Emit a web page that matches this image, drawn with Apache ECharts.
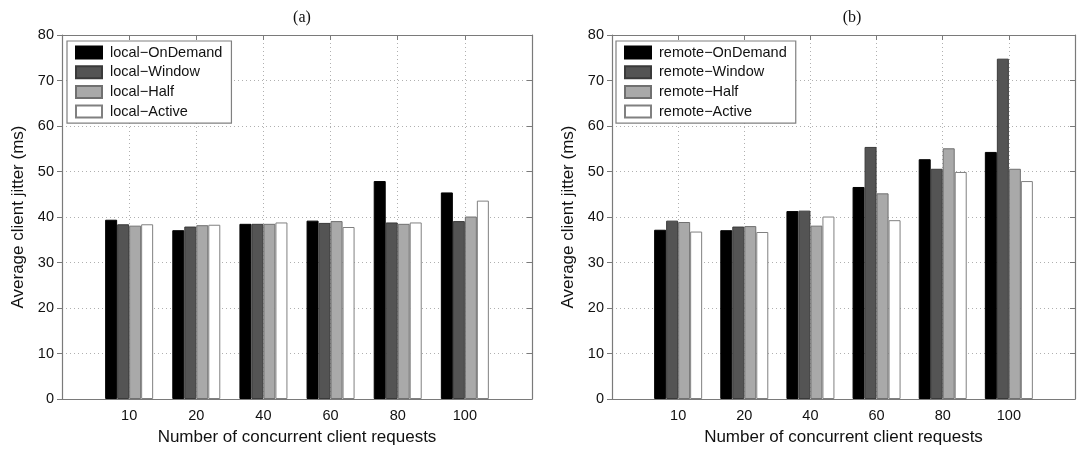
<!DOCTYPE html>
<html>
<head>
<meta charset="utf-8">
<script src="https://cdn.jsdelivr.net/npm/echarts@6/dist/echarts.min.js"></script>
<style>
  html, body { margin: 0; padding: 0; background: #fff; }
  #chart { width: 1078px; height: 451px; }
</style>
</head>
<body>
<div id="chart"></div>
<script>
// Concurrent client request counts (x categories)
const categories = ['10', '20', '40', '60', '80', '100'];
const yTicks = [0, 10, 20, 30, 40, 50, 60, 70, 80];

// (a) local server, average client jitter in ms
const localOnDemand = [39.4, 37.1, 38.5, 39.2, 47.9, 45.4];
const localWindow   = [38.4, 37.9, 38.5, 38.7, 38.8, 39.1];
const localHalf     = [38.1, 38.2, 38.5, 39.1, 38.5, 40.1];
const localActive   = [38.4, 38.3, 38.8, 37.8, 38.8, 43.6];

// (b) remote server, average client jitter in ms
const remoteOnDemand = [37.2, 37.1, 41.3, 46.6, 52.7, 54.3];
const remoteWindow   = [39.2, 37.9, 41.4, 55.4, 50.6, 74.8];
const remoteHalf     = [38.9, 38.0, 38.1, 45.2, 55.1, 50.6];
const remoteActive   = [36.8, 36.7, 40.1, 39.3, 49.9, 47.9];

const fills = ['#000000', '#545454', '#a9a9a9', '#ffffff'];
const edges = ['#000000', '#3a3a3a', '#707070', '#808080'];
const FONT = 'Liberation Sans, Arial, Helvetica, sans-serif';
const SERIF = 'Liberation Serif, Times New Roman, serif';

const chart = echarts.init(document.getElementById('chart'), null, { renderer: 'canvas' });

const grids = [
  { left: 62, width: 470, top: 35, height: 368.5 },
  { left: 612, width: 470, top: 35, height: 368.5 }
];

const dotted = { show: true, lineStyle: { color: '#b0b0b0', type: [1, 3], width: 1 } };
const frameLine = { show: true, onZero: false, lineStyle: { color: '#7a7a7a', width: 1.2 } };

function xAxes(g) {
  return [
    {
      type: 'value', gridIndex: g, position: 'bottom', min: 0, max: categories.length + 1, interval: 1,
      axisLine: frameLine,
      axisTick: { show: false },
      axisLabel: {
        color: '#111', fontSize: 14.5, fontFamily: FONT, margin: 9,
        formatter: v => (v >= 1 && v <= categories.length) ? categories[v - 1] : ''
      },
      splitLine: dotted,
      name: 'Number of concurrent client requests', nameLocation: 'middle', nameGap: 30,
      nameTextStyle: { color: '#111', fontSize: 17, fontFamily: FONT }
    },
    {
      type: 'value', gridIndex: g, position: 'top', min: 0, max: categories.length + 1, interval: 1,
      axisLine: frameLine,
      axisTick: { show: true, inside: true, length: 5, lineStyle: { color: '#7a7a7a' } },
      axisLabel: { show: false }, splitLine: { show: false }
    }
  ];
}

function yAxes(g) {
  return [
    {
      type: 'value', gridIndex: g, position: 'left', min: yTicks[0], max: yTicks[yTicks.length - 1], interval: 10,
      axisLine: frameLine,
      axisTick: { show: true, inside: false, length: 5, lineStyle: { color: '#7a7a7a' } },
      axisLabel: { color: '#111', fontSize: 14.5, fontFamily: FONT, margin: 8 },
      splitLine: dotted,
      name: 'Average client jitter (ms)', nameLocation: 'middle', nameGap: 35, nameRotate: 90,
      nameTextStyle: { color: '#111', fontSize: 17, fontFamily: FONT }
    },
    {
      type: 'value', gridIndex: g, position: 'right', min: yTicks[0], max: yTicks[yTicks.length - 1], interval: 10,
      axisLine: frameLine,
      axisTick: { show: true, inside: true, length: 5, lineStyle: { color: '#7a7a7a' } },
      axisLabel: { show: false }, splitLine: { show: false }
    }
  ];
}

function barSeries(name, values, k, g) {
  return {
    type: 'bar', name: name,
    xAxisIndex: g * 2, yAxisIndex: g * 2,
    data: values.map((v, i) => [i + 1, v]),
    barWidth: 12, barGap: '0%',
    itemStyle: { color: fills[k], borderColor: edges[k], borderWidth: 1 },
    emphasis: { disabled: true },
    animation: false
  };
}

function legend(left, names) {
  return {
    data: names, orient: 'vertical', left: left, top: 41,
    padding: [4, 9, 4, 8], itemGap: 4.7, itemWidth: 26, itemHeight: 12,
    backgroundColor: '#fff', borderColor: '#808080', borderWidth: 1.2, borderRadius: 0,
    icon: 'rect', selectedMode: false,
    textStyle: { color: '#111', fontSize: 14.5, fontFamily: FONT, lineHeight: 12, padding: [0, 0, 0, 3] }
  };
}

const localNames = ['local\u2212OnDemand', 'local\u2212Window', 'local\u2212Half', 'local\u2212Active'];
const remoteNames = ['remote\u2212OnDemand', 'remote\u2212Window', 'remote\u2212Half', 'remote\u2212Active'];
const localData = [localOnDemand, localWindow, localHalf, localActive];
const remoteData = [remoteOnDemand, remoteWindow, remoteHalf, remoteActive];

chart.setOption({
  animation: false,
  backgroundColor: '#fff',
  title: [
    { text: '(a)', left: 297, top: 5, textAlign: 'center',
      textStyle: { fontSize: 16, fontWeight: 'normal', color: '#111', fontFamily: SERIF } },
    { text: '(b)', left: 847, top: 5, textAlign: 'center',
      textStyle: { fontSize: 16, fontWeight: 'normal', color: '#111', fontFamily: SERIF } }
  ],
  grid: grids,
  xAxis: [...xAxes(0), ...xAxes(1)],
  yAxis: [...yAxes(0), ...yAxes(1)],
  legend: [legend(67, localNames), legend(616, remoteNames)],
  series: [
    ...localNames.map((n, k) => barSeries(n, localData[k], k, 0)),
    ...remoteNames.map((n, k) => barSeries(n, remoteData[k], k, 1))
  ]
});
</script>
</body>
</html>
